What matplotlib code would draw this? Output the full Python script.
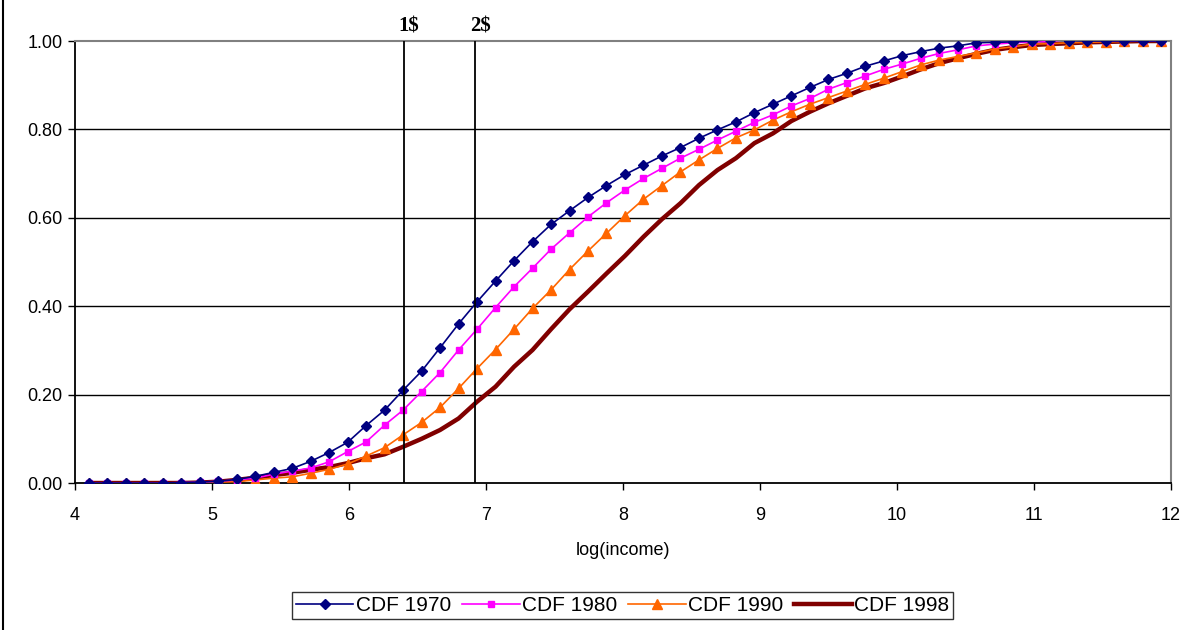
import matplotlib
matplotlib.use("Agg")
import matplotlib.pyplot as plt
from matplotlib.lines import Line2D

plt.rcParams['font.family'] = ['Liberation Sans', 'DejaVu Sans']

# log(income) grid shared by all series
log_income = [4.10, 4.235, 4.37, 4.505, 4.64, 4.775, 4.91, 5.045, 5.18, 5.315,
              5.45, 5.585, 5.72, 5.855, 5.99, 6.125, 6.26, 6.395, 6.53, 6.665,
              6.80, 6.935, 7.07, 7.205, 7.34, 7.475, 7.61, 7.745, 7.88, 8.015,
              8.15, 8.285, 8.42, 8.555, 8.69, 8.825, 8.96, 9.095, 9.23, 9.365,
              9.50, 9.635, 9.77, 9.905, 10.04, 10.175, 10.31, 10.445, 10.58, 10.715,
              10.85, 10.985, 11.12, 11.255, 11.39, 11.525, 11.66, 11.795, 11.93]

cdf_1970 = [0, 0, 0, 0, 0, 0.001, 0.002, 0.004, 0.008, 0.015,
            0.024, 0.033, 0.049, 0.069, 0.092, 0.130, 0.165, 0.210, 0.253, 0.306,
            0.360, 0.410, 0.457, 0.503, 0.546, 0.585, 0.616, 0.646, 0.673, 0.698,
            0.719, 0.740, 0.759, 0.780, 0.799, 0.817, 0.838, 0.857, 0.876, 0.895,
            0.913, 0.927, 0.943, 0.955, 0.967, 0.976, 0.984, 0.989, 0.996, 0.997,
            0.998, 1.000, 1.003, 1.001, 1.0, 1.0, 1.0, 1.0, 1.0]

cdf_1980 = [0, 0, 0, 0, 0, 0.001, 0.002, 0.004, 0.007, 0.011,
            0.020, 0.027, 0.034, 0.048, 0.071, 0.093, 0.131, 0.165, 0.207, 0.250,
            0.301, 0.348, 0.397, 0.444, 0.486, 0.529, 0.566, 0.602, 0.634, 0.663,
            0.689, 0.712, 0.735, 0.755, 0.776, 0.796, 0.816, 0.833, 0.853, 0.870,
            0.891, 0.906, 0.921, 0.936, 0.948, 0.961, 0.972, 0.980, 0.989, 0.993,
            0.996, 0.998, 0.999, 1.004, 1.003, 1.0, 1.0, 1.0, 1.0]

cdf_1990 = [0, 0, 0, 0, 0, 0, 0, 0.002, 0.003, 0.007,
            0.011, 0.014, 0.022, 0.031, 0.043, 0.061, 0.080, 0.109, 0.137, 0.171,
            0.214, 0.259, 0.302, 0.348, 0.395, 0.437, 0.483, 0.525, 0.565, 0.605,
            0.642, 0.673, 0.704, 0.731, 0.757, 0.781, 0.799, 0.821, 0.840, 0.857,
            0.872, 0.887, 0.902, 0.916, 0.931, 0.946, 0.957, 0.965, 0.973, 0.982,
            0.987, 0.993, 0.994, 0.996, 0.997, 0.998, 0.999, 1.0, 1.0]

cdf_1998 = [0, 0, 0, 0, 0, 0, 0.001, 0.003, 0.007, 0.012,
            0.018, 0.023, 0.030, 0.036, 0.045, 0.056, 0.065, 0.082, 0.100, 0.120,
            0.146, 0.184, 0.218, 0.263, 0.301, 0.348, 0.393, 0.433, 0.474, 0.514,
            0.557, 0.597, 0.633, 0.674, 0.708, 0.735, 0.769, 0.791, 0.819, 0.840,
            0.859, 0.876, 0.893, 0.905, 0.920, 0.936, 0.950, 0.961, 0.971, 0.980,
            0.986, 0.991, 0.993, 0.995, 0.997, 0.998, 0.999, 1.0, 1.0]

# poverty lines (log of 1$ and 2$ a day)
poverty_x = [6.40, 6.92]
poverty_labels = ['1$', '2$']

fig = plt.figure(figsize=(11.96, 6.3), dpi=100)
ax = fig.add_axes([0.0627, 0.2333, 0.9163, 0.7016])

ax.plot(log_income, cdf_1970, color='#000080', lw=1.2, marker='D', ms=5.5, label='CDF 1970', zorder=5)
ax.plot(log_income, cdf_1980, color='#FF00FF', lw=1.2, marker='s', ms=5, label='CDF 1980', zorder=4)
ax.plot(log_income, cdf_1990, color='#FF6600', lw=1.2, marker='^', ms=7.5, label='CDF 1990', zorder=3)
ax.plot(log_income, cdf_1998, color='#800000', lw=3.2, label='CDF 1998', zorder=2)

for x, lab in zip(poverty_x, poverty_labels):
    ax.vlines(x, 0, 1, color='black', lw=1.3, zorder=6)
    ax.text(x + 0.04, 1.022, lab, ha='center', va='baseline', fontsize=15,
            fontweight='bold', family='Liberation Serif')

ax.set_xlim(4, 12)
ax.set_ylim(0, 1)
ax.set_xticks([4, 5, 6, 7, 8, 9, 10, 11, 12])
ax.set_yticks([0, 0.2, 0.4, 0.6, 0.8, 1.0])
ax.set_yticklabels(['%.2f' % v for v in [0, 0.2, 0.4, 0.6, 0.8, 1.0]])
ax.tick_params(axis='both', direction='out', length=5, width=1, labelsize=13, pad=4)
ax.tick_params(axis='x', pad=12)

for y in [0.2, 0.4, 0.6, 0.8]:
    ax.axhline(y, color='black', lw=1, zorder=1)

ax.spines['top'].set_color('#808080')
ax.spines['right'].set_color('#808080')
ax.spines['top'].set_linewidth(1.5)
ax.spines['right'].set_linewidth(1.5)
ax.spines['left'].set_linewidth(1.3)
ax.spines['bottom'].set_linewidth(1.3)

ax.set_xlabel('log(income)', fontsize=13, labelpad=13)

leg = fig.legend(loc='center', bbox_to_anchor=(0.5205, 0.039), ncol=4, fontsize=15,
                 frameon=True, fancybox=False, edgecolor='black', numpoints=1,
                 handlelength=2.75, handletextpad=0.1, columnspacing=0.55,
                 borderpad=0.2, borderaxespad=0)
leg.get_frame().set_linewidth(1)

# left border of the chart area
fig.add_artist(Line2D([0.0025, 0.0025], [0, 1], color='black', lw=1.5, transform=fig.transFigure))

plt.savefig('out.png', dpi=100)
